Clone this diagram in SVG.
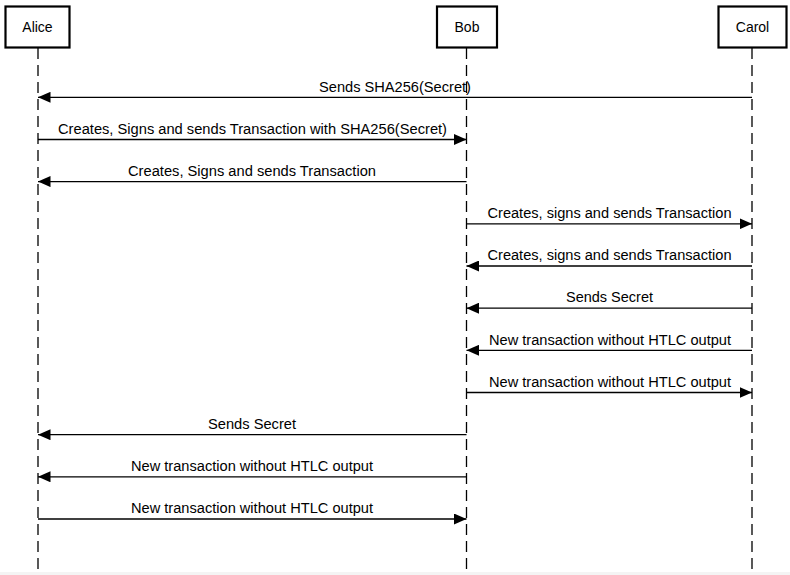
<svg xmlns="http://www.w3.org/2000/svg" width="790" height="575" viewBox="0 0 790 575">
<style>
.actor rect{fill:#fff;stroke:#000;stroke-width:2.2}
.actor text{font-family:"Liberation Sans",Arial,sans-serif;font-size:14px;fill:#000;text-anchor:middle}
.life{stroke:#000;stroke-width:1.3;stroke-dasharray:11 6;fill:none}
.msg line{stroke:#000;stroke-width:1.3;marker-end:url(#ah)}
.msg text{font-family:"Liberation Sans",Arial,sans-serif;font-size:14px;fill:#000;text-anchor:middle}
</style>
<defs>
<marker id="ah" markerUnits="userSpaceOnUse" markerWidth="13" markerHeight="11" refX="12.5" refY="5.5" orient="auto">
<path d="M0,0 L12.5,5.5 L0,11 Z" fill="#000"/>
</marker>
</defs>
<rect width="790" height="575" fill="#fff"/>
<g id="lifelines">
<line class="life" x1="38" y1="48" x2="38" y2="575"/>
<line class="life" x1="466.5" y1="48" x2="466.5" y2="575"/>
<line class="life" x1="752" y1="48" x2="752" y2="575"/>
</g>
<g id="alice" class="actor"><rect x="5.5" y="6.5" width="64" height="41"/><text x="37.5" y="32.3">Alice</text></g>
<g id="bob" class="actor"><rect x="437" y="6.5" width="60" height="41"/><text x="467" y="32.3">Bob</text></g>
<g id="carol" class="actor"><rect x="718.5" y="6.5" width="68" height="41"/><text x="752.5" y="32.3">Carol</text></g>
<g id="connectors" class="msg">
<line x1="752" y1="97.3" x2="38" y2="97.3"/><text x="395" y="91.5" textLength="152" lengthAdjust="spacingAndGlyphs">Sends SHA256(Secret)</text>
<line x1="38" y1="139.5" x2="466.5" y2="139.5"/><text x="252.5" y="133.7" textLength="389" lengthAdjust="spacingAndGlyphs">Creates, Signs and sends Transaction with SHA256(Secret)</text>
<line x1="466.5" y1="181.6" x2="38" y2="181.6"/><text x="252" y="175.8" textLength="248" lengthAdjust="spacingAndGlyphs">Creates, Signs and sends Transaction</text>
<line x1="466.5" y1="223.8" x2="752" y2="223.8"/><text x="609.5" y="218" textLength="244" lengthAdjust="spacingAndGlyphs">Creates, signs and sends Transaction</text>
<line x1="752" y1="266" x2="466.5" y2="266"/><text x="609.5" y="260.2" textLength="244" lengthAdjust="spacingAndGlyphs">Creates, signs and sends Transaction</text>
<line x1="752" y1="308.2" x2="466.5" y2="308.2"/><text x="609.5" y="302.4" textLength="87" lengthAdjust="spacingAndGlyphs">Sends Secret</text>
<line x1="752" y1="350.3" x2="466.5" y2="350.3"/><text x="610" y="344.5" textLength="242" lengthAdjust="spacingAndGlyphs">New transaction without HTLC output</text>
<line x1="466.5" y1="392.5" x2="752" y2="392.5"/><text x="610" y="386.7" textLength="242" lengthAdjust="spacingAndGlyphs">New transaction without HTLC output</text>
<line x1="466.5" y1="434.7" x2="38" y2="434.7"/><text x="252" y="428.9" textLength="88" lengthAdjust="spacingAndGlyphs">Sends Secret</text>
<line x1="466.5" y1="476.8" x2="38" y2="476.8"/><text x="252" y="471" textLength="242" lengthAdjust="spacingAndGlyphs">New transaction without HTLC output</text>
<line x1="38" y1="519" x2="466.5" y2="519"/><text x="252" y="513.2" textLength="242" lengthAdjust="spacingAndGlyphs">New transaction without HTLC output</text>
</g>
<rect x="0" y="572" width="790" height="3" fill="#f4f4f4"/>
</svg>
